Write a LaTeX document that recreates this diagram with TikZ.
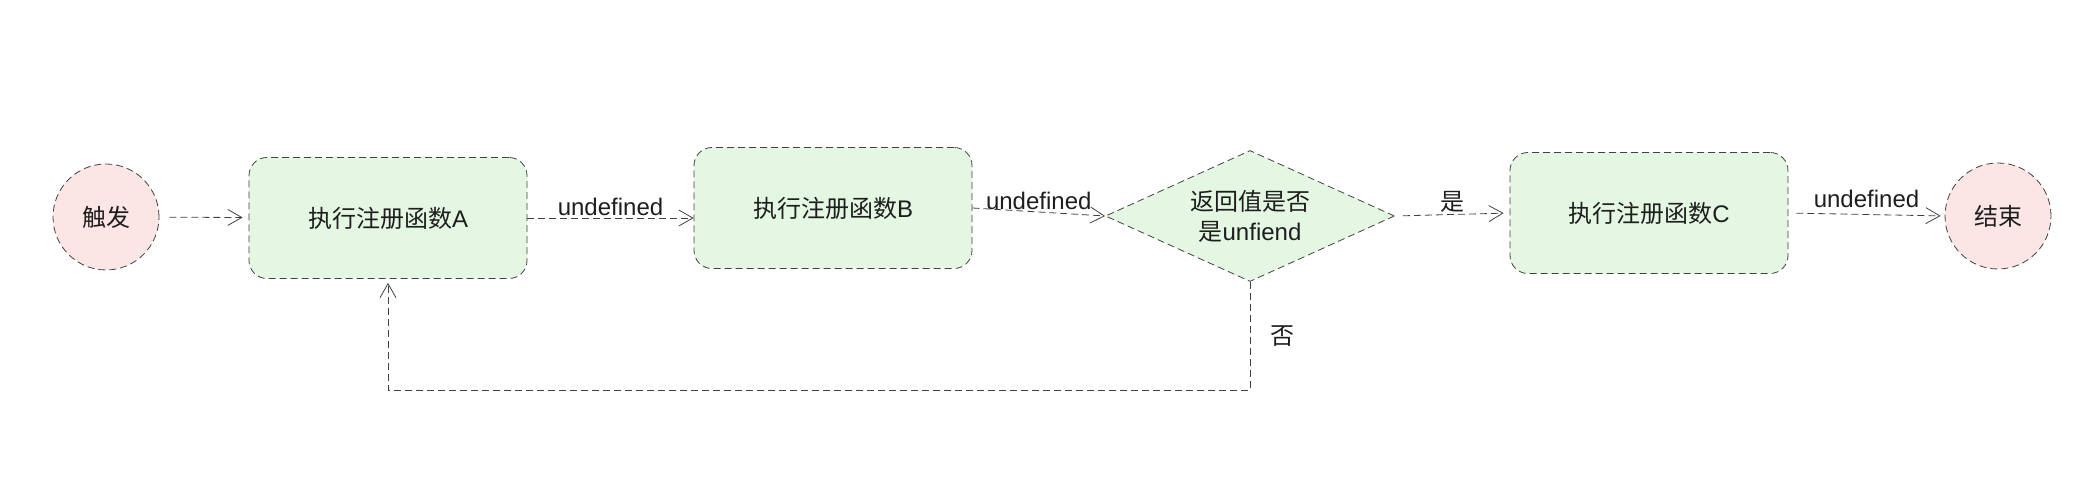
\documentclass[tikz,border=0pt]{standalone}
\usepackage{fontspec}
\setmainfont{Liberation Sans}
\newfontfamily\cjk{Noto Sans CJK SC}
\usetikzlibrary{
    arrows.meta,
    shapes.geometric
}

\definecolor{procfill}{RGB}{228,247,226}
\definecolor{termfill}{RGB}{252,229,229}
\definecolor{edgegray}{RGB}{65,65,65}
\definecolor{textdark}{RGB}{30,30,30}

\tikzset{
    proc/.style={draw=edgegray, dash pattern=on 3.5pt off 2pt, rounded corners=9pt,
        fill=procfill, minimum width=139pt, minimum height=60.5pt, text=textdark},
    term/.style={circle, draw=edgegray, dash pattern=on 3.5pt off 2pt,
        fill=termfill, minimum size=53pt, inner sep=0pt, text=textdark},
    decide/.style={diamond, draw=edgegray, dash pattern=on 3.5pt off 2pt,
        fill=procfill, minimum width=144.5pt, minimum height=65.5pt, inner sep=0pt,
        aspect=2.4, align=center, text=textdark},
    flow/.style={draw=edgegray, dash pattern=on 3.5pt off 2pt,
        -{Straight Barb[length=7pt,width=8pt]}},
    lbl/.style={text=textdark, inner sep=1pt}
}

\begin{document}
\begin{tikzpicture}[x=0.5pt,y=-0.5pt,font=\fontsize{12}{15}\selectfont]
\useasboundingbox (0,0) rectangle (2076,496);

% start and end
\node[term] (start) at (106,217) {\cjk 触发};
\node[term] (stop) at (1998,216) {\cjk 结束};

% registered functions
\node[proc] (funA) at (388,218) {{\cjk 执行注册函数}A};
\node[proc] (funB) at (833,208) {{\cjk 执行注册函数}B};
\node[proc] (funC) at (1649,213) {{\cjk 执行注册函数}C};

% check of the return value
\node[decide] (check) at (1250,216) {\cjk 返回值是否\\{\cjk 是}unfiend};

% main flow
\draw[flow, shorten <=5pt, shorten >=3pt] (start) -- (funA);
\draw[flow] (funA.east) -- (funA.east -| funB.west)
    node[lbl, midway, above] (labAB) {undefined};
\draw[flow] (funB.east) -- (check.west)
    node[lbl, midway, above] (labBD) {undefined};
\draw[flow, shorten <=4pt, shorten >=3pt] (check.east) -- (funC.west)
    node[lbl, midway, above] (labYes) {\cjk 是};
\draw[flow, shorten <=4pt, shorten >=2pt] (funC.east) -- (stop.west)
    node[lbl, midway, above=2pt] (labCE) {undefined};

% back to A when the answer is no
\coordinate (loopY) at (0,390);
\draw[flow, shorten >=2pt] (check.south) -- (check.south |- loopY)
    node[lbl, midway, right=9pt] (labNo) {\cjk 否}
    -| (funA.south);

\end{tikzpicture}
\end{document}
